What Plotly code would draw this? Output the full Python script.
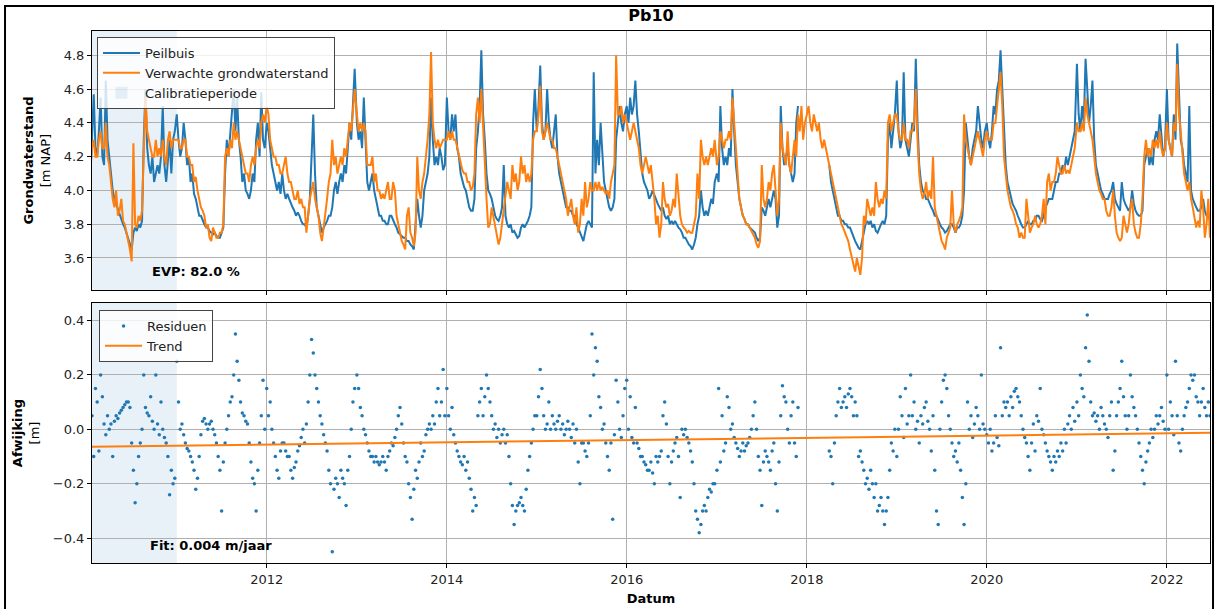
import pandas as pd
import plotly.graph_objects as go

# grondwaterstand peilbuis, wekelijks vanaf 1 januari (m NAP)
peil_2010 = [4.05, 4.05, 4.06, 4.3, 4.57, 4.25, 4.2, 4.35, 4.55, 4.2, 4.15, 4.65, 4.3,
             4.2, 4.1, 4.0, 3.95, 3.92, 3.88, 3.85, 3.82, 3.8, 3.78, 3.75, 3.72, 3.68,
             3.65, 3.75, 3.78, 3.76, 3.8, 3.78, 3.82, 4.3, 4.6, 4.25, 4.15, 4.1, 4.2,
             4.05, 4.1, 4.15, 4.1, 4.2, 4.5, 4.15, 4.05, 4.2, 4.3, 4.1, 4.3, 4.35]
peil_2011 = [4.45, 4.3, 4.2, 4.25, 4.4, 4.3, 4.15, 4.2, 4.05, 4.1, 3.98, 3.95, 3.9,
             3.85, 3.85, 3.82, 3.8, 3.78, 3.78, 3.76, 3.75, 3.74, 3.75, 3.73, 3.72, 3.72,
             3.75, 3.78, 4.1, 4.3, 4.2, 4.35, 4.45, 4.6, 4.35, 4.55, 4.3, 4.2, 4.05,
             4.1, 4.0, 3.98, 3.95, 4.0, 4.1, 4.05, 4.3, 4.4, 4.2, 4.58, 4.3, 4.25]
peil_2012 = [4.4, 4.35, 4.25, 4.15, 4.1, 4.05, 4.0, 4.05, 3.98, 4.1, 4.0, 3.95, 3.98,
             3.95, 3.92, 3.9, 3.88, 3.85, 3.87, 3.85, 3.82, 3.8, 3.8, 3.78, 3.85, 3.95,
             4.2, 4.45, 4.1, 3.9, 3.85, 3.8, 3.75, 3.78, 3.8, 3.82, 3.85, 3.85, 3.9,
             4.0, 4.05, 3.98, 4.05, 4.1, 4.05, 4.15, 4.1, 4.25, 4.4, 4.3, 4.55, 4.72]
peil_2013 = [4.4, 4.3, 4.35, 4.25, 4.55, 4.3, 4.05, 4.0, 4.05, 4.1, 4.0, 3.95, 3.9,
             3.85, 3.85, 3.82, 3.82, 3.8, 3.8, 3.85, 3.85, 3.82, 3.8, 3.78, 3.75, 3.74,
             3.73, 3.72, 3.72, 3.7, 3.7, 3.68, 3.67, 3.65, 3.8, 3.95, 3.85, 3.78, 3.85,
             4.0, 4.05, 4.1, 4.2, 4.55, 4.3, 4.15, 4.2, 4.15, 4.25, 4.2, 4.12, 4.15]
peil_2014 = [4.55, 4.35, 4.3, 4.45, 4.35, 4.45, 4.25, 4.2, 4.1, 4.05, 4.02, 4.0, 3.95,
             3.9, 3.88, 3.88, 3.95, 4.25, 4.35, 4.5, 4.83, 4.45, 4.3, 4.1, 4.0, 3.98,
             3.95, 3.9, 3.85, 3.83, 3.82, 3.85, 3.9, 4.15, 3.85, 3.8, 3.78, 3.8, 3.75,
             3.76, 3.74, 3.72, 3.73, 3.78, 3.8, 3.78, 3.8, 3.82, 3.85, 3.9, 4.4, 4.6]
peil_2015 = [4.35, 4.5, 4.74, 4.4, 4.3, 4.35, 4.6, 4.4, 4.3, 4.25, 4.35, 4.45, 4.2,
             4.1, 4.05, 4.0, 3.95, 3.9, 3.9, 3.88, 3.88, 3.85, 3.85, 3.8, 3.78, 3.75,
             3.72, 3.7, 3.75, 3.8, 3.82, 3.8, 3.78, 4.7, 4.1, 4.3, 4.15, 4.4, 4.2,
             4.05, 4.0, 3.95, 3.9, 3.88, 3.9, 3.95, 4.3, 4.4, 4.5, 4.4, 4.35, 4.45]
peil_2016 = [4.5, 4.4, 4.55, 4.45, 4.5, 4.65, 4.45, 4.35, 4.2, 4.1, 4.05, 4.02, 4.0,
             3.95, 3.97, 4.0, 3.97, 3.95, 3.92, 3.9, 3.88, 3.9, 3.85, 3.83, 3.85, 3.8,
             3.82, 3.8, 3.82, 3.8, 3.78, 3.77, 3.75, 3.72, 3.72, 3.7, 3.68, 3.67, 3.65,
             3.68, 3.72, 3.8, 3.85, 4.0, 3.9, 3.85, 3.88, 3.85, 3.9, 3.95, 3.92, 4.05]
peil_2017 = [4.1, 4.05, 4.5, 4.25, 4.15, 4.2, 4.15, 4.25, 4.2, 4.6, 4.35, 4.15, 4.05,
             3.95, 3.9, 3.85, 3.83, 3.8, 3.8, 3.78, 3.77, 3.76, 3.75, 3.72, 3.7, 3.72,
             3.9, 3.88, 3.85, 3.9, 3.95, 3.9, 3.95, 4.0, 3.95, 3.78, 3.85, 4.5, 4.25,
             4.15, 4.2, 4.25, 4.15, 4.1, 4.05, 4.1, 4.4, 4.5, None, None, None, None]
peil_2018 = [None, None, None, None, None, None, None, None, None, None, None, None, None,
             4.15, 4.05, 4.0, 3.95, 3.9, 3.85, 3.85, 3.82, 3.82, 3.8, 3.8, 3.78, 3.78,
             3.75, 3.72, 3.7, 3.68, 3.66, 3.65, 3.7, 3.75, 3.8, 3.82, 3.8, 3.82, 3.78,
             3.8, 3.76, 3.75, 3.78, 3.8, 3.82, 3.8, 3.85, 4.3, 4.4, 4.25, 4.35, 4.45]
peil_2019 = [4.65, 4.35, 4.25, 4.3, 4.7, 4.3, 4.25, 4.2, 4.3, 4.4, 4.35, 4.78, 4.4,
             4.15, 4.05, 4.0, 3.98, 3.95, 3.95, 3.92, 3.9, 3.88, 3.85, 3.85, 3.82, 3.8,
             3.78, 3.77, 3.75, 3.76, 3.78, 3.8, 3.8, 3.78, 3.75, 3.78, 3.78, 3.8, 3.85,
             4.0, 4.4, 4.3, 4.2, 4.15, 4.25, 4.3, 4.35, 4.5, 4.4, 4.3, 4.25, 4.35]
peil_2020 = [4.4, 4.3, 4.25, 4.35, 4.5, 4.45, 4.6, 4.65, 4.83, 4.6, 4.3, 4.15, 4.05,
             4.0, 3.95, 3.92, 3.9, 3.88, 3.85, 3.82, 3.8, 3.78, 3.78, 3.8, 3.82, 3.8,
             3.8, 3.82, 3.82, 3.85, 3.85, 3.83, 3.82, 3.85, 3.9, 3.92, 3.95, 3.95, 3.95,
             4.0, 4.05, 4.05, 4.1, 4.1, 4.15, 4.12, 4.2, 4.15, 4.2, 4.25, 4.3, 4.35]
peil_2021 = [4.75, 4.45, 4.35, 4.5, 4.4, 4.78, 4.6, 4.4, 4.5, 4.65, 4.3, 4.15, 4.1,
             4.05, 4.0, 3.98, 3.95, 3.95, 3.95, 3.98, 4.0, 4.05, 3.95, 3.92, 3.9, 3.88,
             4.05, 3.95, 3.92, 3.9, 3.88, 3.9, 4.0, 3.92, 3.88, 3.86, 3.85, 3.85, 3.88,
             4.15, 4.2, 4.25, 4.15, 4.2, 4.15, 4.3, 4.35, 4.3, 4.45, 4.3, 4.2, 4.25]
peil_2022 = [4.6, 4.3, 4.25, 4.2, 4.45, 4.3, 4.87, 4.55, 4.3, 4.25, 4.15, 4.1, 4.05,
             4.5, 4.0, 3.95, 3.92, 3.9, 3.88, 3.88, 3.9, 3.95, 3.88, 3.85, 3.85, 3.82, 3.8]

# verwachte grondwaterstand (model), zelfde weken
verw_2010 = [4.1, 4.1, 4.12, 4.25, 4.3, 4.2, 4.2, 4.3, 4.35, 4.25, 4.25, 4.4, 4.2,
             4.15, 4.05, 3.95, 3.9, 4.0, 3.85, 3.88, 3.95, 3.82, 3.8, 3.75, 3.72, 3.65,
             3.58, 4.28, 3.8, 3.78, 3.85, 3.82, 3.88, 4.3, 4.55, 4.35, 4.3, 4.25, 4.2,
             4.2, 4.3, 4.2, 4.25, 4.2, 4.3, 4.2, 4.15, 4.3, 4.35, 4.25, 4.3, 4.3]
verw_2011 = [4.3, 4.3, 4.25, 4.25, 4.3, 4.3, 4.2, 4.2, 4.15, 4.15, 4.05, 4.08, 4.0,
             3.95, 3.9, 3.88, 3.85, 3.78, 3.8, 3.72, 3.7, 3.78, 3.75, 3.72, 3.72, 3.75,
             3.75, 3.8, 4.2, 4.25, 4.2, 4.3, 4.25, 4.4, 4.3, 4.35, 4.3, 4.25, 4.2,
             4.15, 4.1, 4.1, 4.05, 4.15, 4.2, 4.15, 4.25, 4.3, 4.25, 4.4, 4.45, 4.4]
verw_2012 = [4.5, 4.45, 4.3, 4.25, 4.2, 4.2, 4.15, 4.15, 4.1, 4.1, 4.15, 4.2, 4.1,
             4.05, 4.05, 4.0, 3.95, 3.95, 4.0, 3.92, 3.95, 3.9, 3.9, 3.75, 3.85, 3.95,
             4.0, 4.05, 3.95, 3.9, 3.85, 3.75, 3.7, 3.78, 3.85, 3.95, 4.05, 4.1, 4.3,
             4.15, 4.2, 4.1, 4.15, 4.2, 4.15, 4.25, 4.2, 4.3, 4.4, 4.35, 4.5, 4.6]
verw_2013 = [4.45, 4.35, 4.4, 4.35, 4.4, 4.35, 4.15, 4.15, 4.15, 4.2, 4.05, 4.1, 4.0,
             4.0, 3.95, 3.98, 3.95, 4.0, 4.05, 3.95, 3.95, 4.05, 4.0, 3.85, 3.8, 3.75,
             3.7, 3.68, 3.65, 3.85, 3.9, 3.75, 3.72, 3.67, 3.75, 4.2, 4.0, 3.95, 4.05,
             4.1, 4.2, 4.3, 4.45, 4.82, 4.4, 4.3, 4.25, 4.3, 4.25, 4.28, 4.3, 4.3]
verw_2014 = [4.3, 4.35, 4.3, 4.35, 4.3, 4.3, 4.25, 4.2, 4.15, 4.12, 4.1, 4.1, 4.05,
             4.05, 4.0, 4.02, 4.1, 4.45, 4.55, 4.4, 4.6, 4.35, 4.2, 3.95, 3.78, 3.8,
             3.9, 3.85, 3.8, 3.75, 3.68, 3.72, 3.8, 3.9, 3.95, 4.05, 4.0, 3.95, 4.15,
             4.05, 4.1, 4.0, 4.05, 4.2, 4.1, 4.15, 4.05, 4.1, 4.05, 4.1, 4.3, 4.35]
verw_2015 = [4.35, 4.45, 4.62, 4.35, 4.3, 4.35, 4.4, 4.35, 4.3, 4.3, 4.25, 4.25, 4.2,
             4.15, 4.1, 4.05, 4.0, 3.95, 3.85, 3.9, 3.95, 3.85, 3.8, 3.9, 3.75, 3.8,
             3.95, 3.85, 4.05, 3.9, 3.95, 4.05, 4.0, 4.0, 4.05, 4.0, 4.05, 4.0, 4.02,
             4.0, 3.98, 4.0, 3.95, 4.05, 4.1, 4.15, 4.8, 4.45, 4.45, 4.5, 4.4, 4.45]
verw_2016 = [4.4, 4.35, 4.3, 4.35, 4.4, 4.35, 4.3, 4.25, 4.15, 4.1, 4.15, 4.2, 4.15,
             4.1, 4.15, 4.05, 3.95, 3.8, 3.85, 3.72, 3.8, 4.05, 3.95, 3.9, 3.92, 3.85,
             3.88, 3.95, 3.9, 4.1, 3.95, 3.85, 3.8, 3.78, 3.77, 3.75, 3.76, 3.75, 3.75,
             3.8, 3.85, 4.1, 3.95, 4.3, 4.2, 4.15, 4.2, 4.15, 4.2, 4.25, 4.2, 4.3]
verw_2017 = [4.15, 4.2, 4.35, 4.3, 4.25, 4.3, 4.3, 4.35, 4.3, 4.55, 4.4, 4.3, 4.15,
             3.95, 3.9, 3.85, 3.83, 3.8, 3.8, 3.78, 3.76, 3.74, 3.72, 3.68, 3.66, 3.7,
             4.15, 3.95, 3.9, 3.95, 4.05, 4.0, 4.1, 4.15, 4.0, 3.85, 3.95, 4.4, 4.25,
             4.2, 4.15, 4.35, 4.15, 4.1, 4.2, 4.3, 4.2, 4.45, 4.35, 4.5, 4.3, 4.4]
verw_2018 = [4.45, 4.5, 4.4, 4.35, 4.45, 4.4, 4.35, 4.4, 4.3, 4.25, 4.3, 4.25, 4.2,
             4.15, 4.1, 4.05, 4.0, 3.95, 3.9, 3.85, 3.8, 3.78, 3.75, 3.72, 3.7, 3.65,
             3.6, 3.55, 3.52, 3.6, 3.55, 3.5, 3.6, 3.85, 3.8, 3.95, 3.9, 3.85, 3.9,
             3.85, 4.05, 3.95, 3.9, 3.95, 3.92, 4.0, 3.95, 4.4, 4.45, 4.35, 4.4, 4.45]
verw_2019 = [4.45, 4.35, 4.3, 4.3, 4.4, 4.3, 4.3, 4.25, 4.35, 4.35, 4.4, 4.6, 4.3,
             4.1, 4.0, 3.95, 3.98, 4.05, 3.95, 4.0, 3.95, 4.2, 3.9, 3.85, 3.8, 3.75,
             3.7, 3.68, 3.65, 3.72, 3.75, 3.78, 4.0, 3.8, 3.75, 3.8, 3.82, 3.85, 3.9,
             4.45, 4.3, 4.25, 4.2, 4.15, 4.2, 4.25, 4.3, 4.35, 4.3, 4.25, 4.2, 4.3]
verw_2020 = [4.35, 4.3, 4.3, 4.3, 4.4, 4.4, 4.5, 4.6, 4.7, 4.5, 4.2, 4.1, 4.0,
             3.95, 3.9, 3.88, 3.85, 3.8, 3.78, 3.72, 3.75, 3.72, 3.72, 3.95, 3.85, 3.75,
             3.78, 3.8, 3.85, 3.8, 3.78, 3.8, 3.85, 3.95, 3.8, 4.05, 4.1, 4.0, 4.05,
             4.05, 4.1, 4.2, 4.15, 4.1, 4.1, 4.15, 4.1, 4.12, 4.1, 4.15, 4.2, 4.25]
verw_2021 = [4.4, 4.35, 4.35, 4.4, 4.35, 4.55, 4.45, 4.4, 4.35, 4.3, 4.2, 4.1, 4.05,
             4.0, 3.98, 3.95, 3.95, 3.88, 3.85, 3.85, 3.9, 4.0, 3.85, 3.75, 3.72, 3.7,
             3.72, 3.85, 3.8, 3.75, 3.8, 3.9, 3.95, 3.8, 3.75, 3.72, 3.72, 3.8, 3.95,
             4.2, 4.3, 4.2, 4.25, 4.2, 4.3, 4.25, 4.3, 4.25, 4.35, 4.25, 4.2, 4.25]
verw_2022 = [4.4, 4.3, 4.25, 4.2, 4.4, 4.35, 4.75, 4.45, 4.35, 4.2, 4.1, 4.05, 4.0,
             4.05, 3.95, 3.9, 3.85, 3.78, 3.82, 3.78, 4.0, 3.9, 3.72, 3.8, 3.95, 3.72, 3.75]

# residuen, wekelijks vanaf 1 januari (m)
resid_2010 = [None, None, None, 0.05, -0.1, 0.15, 0.1, -0.08, 0.2, 0.12, 0.02, -0.02, 0.05,
              0.0, 0.02, -0.1, 0.03, 0.05, 0.04, 0.06, 0.07, 0.08, 0.09, 0.1, 0.1, 0.08,
              -0.05, -0.15, -0.27, -0.2, -0.1, -0.05, 0.0, 0.2, 0.08, 0.06, 0.05, 0.12, 0.03,
              0.0, 0.2, 0.02, -0.02, 0.1, 0.0, -0.03, -0.05, -0.1, -0.24, -0.15, -0.2, -0.18]
resid_2011 = [0.25, 0.1, 0.0, 0.02, -0.02, -0.05, -0.07, -0.08, -0.1, -0.12, -0.15, -0.22, -0.18,
              -0.1, -0.02, 0.03, 0.04, 0.02, 0.0, 0.02, 0.03, 0.0, -0.02, -0.05, -0.1, -0.15,
              -0.3, -0.12, -0.05, 0.0, 0.05, 0.1, 0.12, 0.2, 0.35, 0.25, 0.18, 0.1, 0.06,
              0.05, 0.03, 0.02, -0.05, -0.12, -0.18, -0.2, -0.3, -0.15, -0.05, 0.05, 0.18, 0.0]
resid_2012 = [0.15, 0.05, 0.1, 0.0, -0.05, -0.1, -0.15, -0.18, -0.08, -0.05, -0.05, -0.08, -0.1,
              -0.1, -0.15, -0.18, -0.14, -0.12, -0.08, -0.06, -0.03, 0.0, -0.05, 0.02, 0.1, 0.2,
              0.33, 0.28, 0.2, 0.15, 0.1, 0.05, 0.02, -0.02, -0.05, -0.08, -0.15, -0.2, -0.45,
              -0.22, -0.18, -0.2, -0.25, -0.15, -0.18, -0.2, -0.28, -0.15, -0.1, 0.0, 0.1, 0.15]
resid_2013 = [0.2, 0.15, 0.08, 0.05, 0.0, -0.02, -0.05, -0.08, -0.1, -0.1, -0.12, -0.1, -0.12,
              -0.13, -0.12, -0.1, -0.12, -0.15, -0.1, -0.08, -0.05, -0.06, -0.03, 0.0, 0.05, 0.08,
              0.02, -0.05, -0.1, -0.12, -0.2, -0.25, -0.33, -0.22, -0.15, -0.18, -0.12, -0.05, -0.1,
              -0.08, -0.02, 0.0, 0.02, 0.0, 0.05, 0.02, 0.1, 0.15, 0.05, 0.1, 0.22, 0.05]
resid_2014 = [0.15, 0.05, 0.0, 0.08, -0.02, -0.05, -0.08, -0.1, -0.12, -0.13, -0.1, -0.15, -0.12,
              -0.18, -0.22, -0.3, -0.25, -0.28, 0.05, 0.1, 0.15, 0.05, 0.12, 0.2, 0.15, 0.1,
              0.05, 0.0, 0.02, -0.03, 0.0, -0.05, -0.02, 0.0, -0.05, -0.02, -0.1, -0.2, -0.28,
              -0.35, -0.3, -0.28, -0.27, -0.25, -0.28, -0.3, -0.22, -0.15, -0.1, -0.05, 0.0, 0.05]
resid_2015 = [0.05, 0.12, 0.22, 0.15, 0.05, 0.0, 0.02, 0.1, 0.0, 0.05, 0.02, 0.0, 0.03,
              0.05, 0.0, 0.02, -0.02, 0.0, 0.03, 0.0, -0.03, 0.02, -0.05, 0.0, -0.12, -0.2,
              -0.05, -0.05, -0.08, -0.1, -0.05, 0.05, 0.35, 0.2, 0.3, 0.25, 0.12, 0.08, 0.0,
              0.02, -0.05, -0.1, -0.15, -0.05, -0.33, -0.02, 0.18, 0.1, 0.0, -0.03, 0.05, 0.15]
resid_2016 = [0.18, 0.0, 0.12, -0.03, -0.05, 0.08, -0.05, -0.07, -0.1, -0.1, -0.12, -0.13, -0.15,
              -0.15, -0.12, -0.16, -0.2, -0.1, -0.12, -0.1, -0.08, 0.05, 0.1, 0.02, -0.1, -0.2,
              -0.12, -0.08, -0.05, -0.03, -0.1, -0.25, 0.0, -0.02, 0.0, -0.03, -0.05, -0.08, -0.12,
              -0.2, -0.3, -0.33, -0.38, -0.35, -0.3, -0.28, -0.3, -0.25, -0.22, -0.23, -0.2, -0.2]
resid_2017 = [-0.15, 0.15, -0.12, 0.05, -0.08, -0.05, 0.12, 0.08, 0.0, 0.02, -0.03, -0.05, -0.07,
              -0.1, -0.08, -0.05, -0.08, -0.06, -0.05, -0.03, 0.0, 0.05, 0.1, 0.0, -0.1, -0.15,
              -0.28, -0.12, -0.08, -0.1, -0.12, -0.15, -0.08, -0.05, -0.2, -0.3, -0.12, 0.05, 0.16,
              0.12, 0.1, 0.0, -0.05, 0.05, 0.1, -0.05, -0.1, 0.08, None, None, None, None]
resid_2018 = [None, None, None, None, None, None, None, None, None, None, None, None, None,
              -0.08, -0.1, -0.2, -0.05, 0.05, 0.1, 0.15, 0.08, 0.1, 0.12, 0.08, 0.13, 0.15,
              0.12, 0.05, 0.1, 0.05, -0.1, -0.08, -0.12, -0.15, -0.2, -0.18, -0.22, -0.15, -0.2,
              -0.25, -0.2, -0.3, -0.28, -0.25, -0.3, -0.35, -0.3, -0.25, -0.15, -0.05, -0.08, 0.0]
resid_2019 = [-0.1, 0.0, 0.12, 0.05, -0.03, 0.15, 0.02, 0.05, 0.2, 0.05, 0.1, 0.0, 0.03,
              -0.05, 0.05, 0.02, 0.08, 0.1, 0.03, 0.0, -0.08, 0.05, -0.15, -0.3, -0.35, 0.0,
              0.1, 0.18, 0.2, 0.15, 0.05, 0.0, -0.05, -0.1, -0.08, -0.12, -0.05, -0.15, -0.25,
              -0.35, -0.2, 0.1, 0.0, 0.05, -0.03, 0.02, 0.08, 0.05, 0.0, 0.2, 0.02, 0.0]
resid_2020 = [-0.02, -0.05, 0.0, -0.08, -0.05, 0.05, -0.03, -0.06, 0.3, 0.05, 0.1, 0.08, 0.1,
              0.05, 0.12, 0.08, 0.14, 0.15, 0.12, 0.1, 0.05, 0.0, -0.03, -0.05, -0.1, -0.15,
              -0.05, 0.02, -0.08, 0.05, 0.03, 0.15, 0.0, -0.02, -0.05, -0.08, -0.1, -0.12, -0.15,
              -0.1, -0.12, -0.08, -0.1, -0.05, -0.08, 0.0, -0.05, 0.02, 0.05, 0.0, 0.08, 0.03]
resid_2021 = [0.1, 0.05, 0.2, 0.15, 0.12, 0.3, 0.42, 0.25, 0.1, 0.05, 0.06, 0.03, 0.05,
              0.0, 0.08, 0.05, 0.02, 0.0, -0.03, 0.05, 0.1, -0.15, -0.08, 0.05, 0.1, 0.15,
              0.25, 0.12, 0.05, 0.0, 0.05, 0.2, 0.12, 0.08, 0.05, 0.0, -0.05, -0.1, -0.15,
              -0.2, -0.12, -0.08, -0.05, 0.0, -0.03, 0.0, 0.05, 0.02, 0.05, 0.08, 0.03, 0.0]
resid_2022 = [0.2, 0.0, 0.1, 0.05, -0.02, 0.25, 0.05, -0.05, -0.08, 0.0, 0.05, 0.08, 0.1,
              0.15, 0.2, 0.18, 0.2, 0.12, 0.1, 0.05, 0.1, 0.15, 0.08, 0.05, 0.1, 0.05]

jaren = list(range(2010, 2023))
peil_jaren = [peil_2010, peil_2011, peil_2012, peil_2013, peil_2014, peil_2015, peil_2016,
              peil_2017, peil_2018, peil_2019, peil_2020, peil_2021, peil_2022]
verw_jaren = [verw_2010, verw_2011, verw_2012, verw_2013, verw_2014, verw_2015, verw_2016,
              verw_2017, verw_2018, verw_2019, verw_2020, verw_2021, verw_2022]
resid_jaren = [resid_2010, resid_2011, resid_2012, resid_2013, resid_2014, resid_2015, resid_2016,
               resid_2017, resid_2018, resid_2019, resid_2020, resid_2021, resid_2022]

trend_datums = ["2010-01-22", "2022-06-25"]
trend = [-0.064, -0.013]

calib_start = "2010-01-22"
calib_eind = "2011-01-01"
evp = 82.0
fit = 0.004


def weken(jaar, vals):
    return list(pd.date_range(f"{jaar}-01-01", periods=len(vals), freq="7D"))


px_, py_, vx_, vy_, rx_, ry_ = [], [], [], [], [], []
for j, p, v, r in zip(jaren, peil_jaren, verw_jaren, resid_jaren):
    px_ += weken(j, p); py_ += p
    vx_ += weken(j, v); vy_ += v
    rx_ += weken(j, r); ry_ += r

C0 = "#1f77b4"
C1 = "#ff7f0e"
FONT = "DejaVu Sans"
GRID = "#b0b0b0"

fig = go.Figure()
fig.add_trace(go.Scatter(x=px_, y=py_, mode="lines", name="Peilbuis",
                         line=dict(color=C0, width=2), legend="legend", legendrank=1,
                         xaxis="x", yaxis="y"))
fig.add_trace(go.Scatter(x=vx_, y=vy_, mode="lines", name="Verwachte grondwaterstand",
                         line=dict(color=C1, width=2), legend="legend", legendrank=2,
                         xaxis="x", yaxis="y"))
fig.add_trace(go.Scatter(x=rx_, y=ry_, mode="markers", name="Residuen",
                         marker=dict(color=C0, size=3.5), legend="legend2",
                         xaxis="x2", yaxis="y2"))
fig.add_trace(go.Scatter(x=trend_datums, y=trend, mode="lines", name="Trend",
                         line=dict(color=C1, width=2), legend="legend2",
                         xaxis="x2", yaxis="y2"))

shapes = [
    dict(type="rect", xref="x", yref="y domain", x0=calib_start, x1=calib_eind, y0=0, y1=1,
         fillcolor="rgba(31,119,180,0.1)", line=dict(width=0), layer="below",
         showlegend=True, name="Calibratieperiode", legend="legend", legendrank=3),
    dict(type="rect", xref="x2", yref="y2 domain", x0=calib_start, x1=calib_eind, y0=0, y1=1,
         fillcolor="rgba(31,119,180,0.1)", line=dict(width=0), layer="below"),
    # kader om de figuur
    dict(type="rect", xref="paper", yref="paper", x0=-0.0778, x1=1.0027, y0=-0.095, y1=1.047,
         line=dict(color="black", width=2), fillcolor="rgba(0,0,0,0)", layer="above"),
]

axis_common = dict(showline=True, mirror=True, linecolor="black", linewidth=1,
                   ticks="outside", ticklen=4, tickcolor="black", automargin=False,
                   showgrid=True, gridcolor=GRID, gridwidth=1, zeroline=False,
                   tickfont=dict(family=FONT, size=13, color="#222"))
x_range = ["2010-01-22", "2022-06-25"]

fig.update_layout(
    width=1215, height=609,
    margin=dict(l=92, r=5, t=31, b=46),
    paper_bgcolor="white", plot_bgcolor="white",
    font=dict(family=FONT, size=13, color="black"),
    title=dict(text="<b>Pb10</b>", x=0.5358, xanchor="center", y=0.975, yanchor="middle",
               font=dict(family=FONT, size=16, color="black")),
    xaxis=dict(axis_common, domain=[0, 1], anchor="y", range=x_range, type="date",
               showticklabels=False, dtick="M24", tick0="2012-01-01"),
    yaxis=dict(axis_common, domain=[0.513, 1.0], anchor="x", range=[3.41, 4.944],
               dtick=0.2, tick0=3.6, tickformat=".1f",
               title=dict(text="<b>Grondwaterstand</b><br>[m NAP]", standoff=10,
                          font=dict(family=FONT, size=13))),
    xaxis2=dict(axis_common, domain=[0, 1], anchor="y2", range=x_range, type="date",
                matches="x", dtick="M24", tick0="2012-01-01", tickformat="%Y",
                title=dict(text="<b>Datum</b>", standoff=8, font=dict(family=FONT, size=13))),
    yaxis2=dict(axis_common, domain=[0, 0.4887], anchor="x2", range=[-0.491, 0.464],
                dtick=0.2, tick0=0, tickformat=".1f",
                title=dict(text="<b>Afwijking</b><br>[m]", standoff=10,
                           font=dict(family=FONT, size=13))),
    legend=dict(x=0.0045, y=0.9887, xanchor="left", yanchor="top", itemwidth=37,
                bgcolor="rgba(255,255,255,0.8)", bordercolor="#444", borderwidth=1,
                font=dict(family=FONT, size=13, color="#222")),
    legend2=dict(x=0.0063, y=0.4756, xanchor="left", yanchor="top", itemwidth=37,
                 bgcolor="rgba(255,255,255,0.8)", bordercolor="#444", borderwidth=1,
                 font=dict(family=FONT, size=13, color="#222")),
    shapes=shapes,
    annotations=[
        dict(text=f"<b>EVP: {evp:.1f} %</b>", xref="paper", yref="paper", x=0.0519, y=0.547,
             xanchor="left", yanchor="middle", showarrow=False,
             font=dict(family=FONT, size=13, color="black")),
        dict(text=f"<b>Fit: {fit:.3f} m/jaar</b>", xref="paper", yref="paper", x=0.05, y=0.0338,
             xanchor="left", yanchor="middle", showarrow=False,
             font=dict(family=FONT, size=13, color="black")),
    ],
)

fig.write_html("out.html", config={"displayModeBar": False},
               post_script="document.body.style.margin='0';")
